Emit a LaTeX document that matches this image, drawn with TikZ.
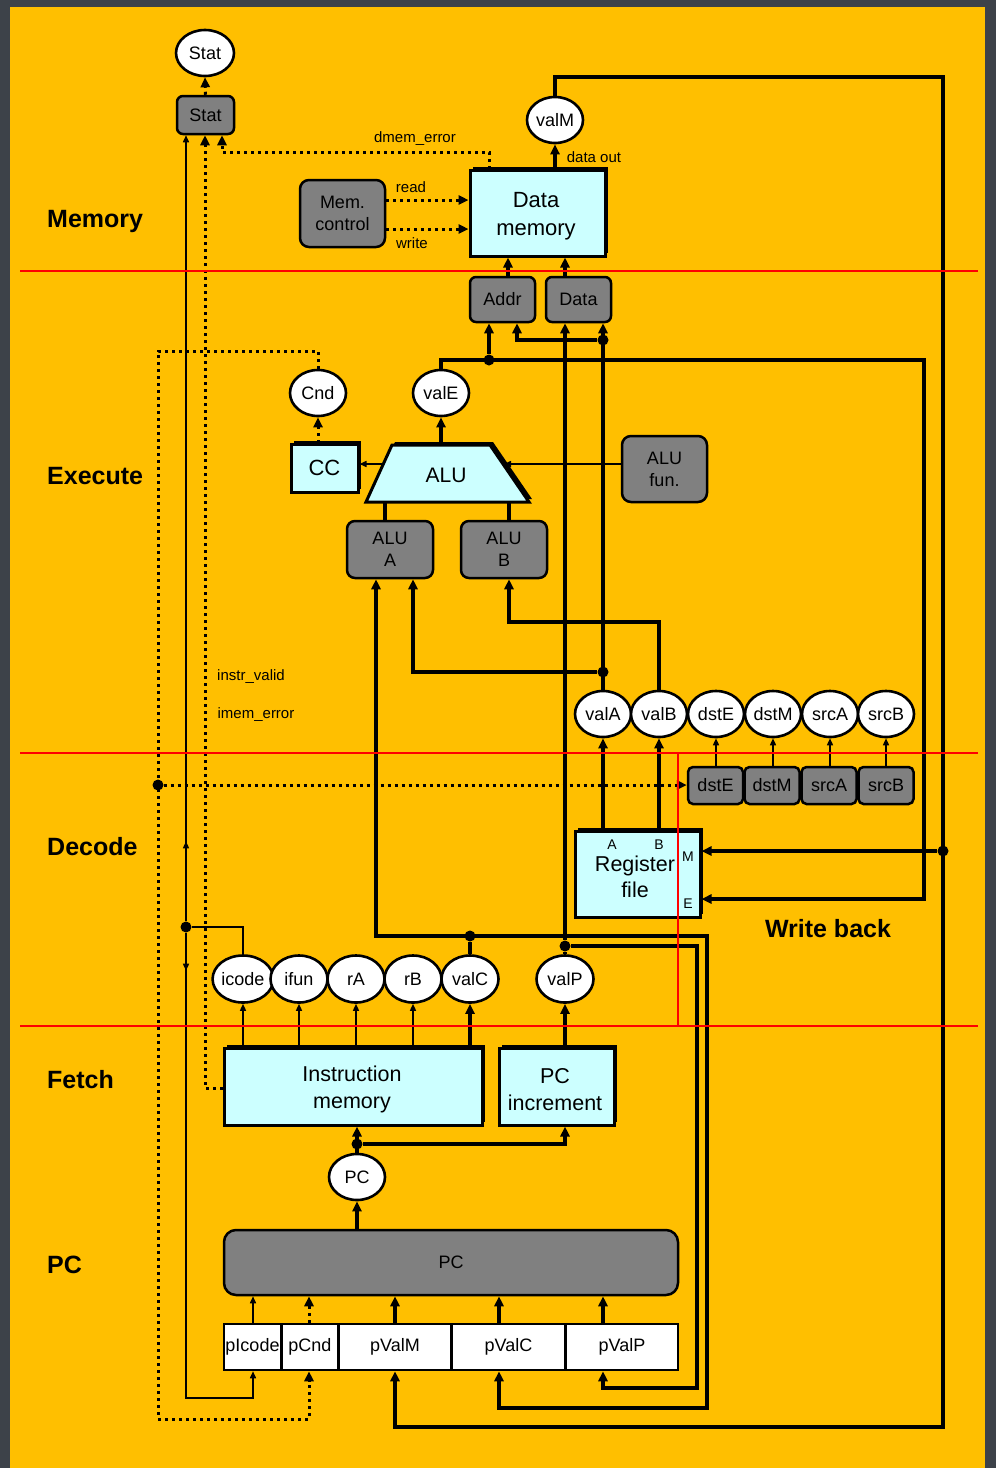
\documentclass[tikz,border=0pt]{standalone}
\usepackage{fontspec}
\setmainfont{Liberation Sans}
\usetikzlibrary{arrows.meta,shapes.geometric,shadows,decorations.markings}
\definecolor{bgdark}{HTML}{3D4249}
\definecolor{ylw}{HTML}{FFBF00}
\definecolor{cyn}{HTML}{CCFFFF}
\definecolor{gry}{HTML}{808080}
\begin{document}
\begin{tikzpicture}[x=1pt,y=-1pt,
 ell/.style={ellipse,draw,line width=2.6pt,fill=white,minimum width=56pt,minimum height=46pt,inner sep=0pt,font=\fontsize{18}{20}\selectfont},
 gbox/.style={draw,line width=2.5pt,fill=gry,rounded corners=6pt,inner sep=0pt,align=center,font=\fontsize{18}{22}\selectfont},
 cbox/.style={draw,line width=3pt,fill=cyn,inner sep=0pt,align=center,drop shadow={shadow xshift=3pt,shadow yshift=3pt,fill=black,opacity=1}},
 ctxt/.style={inner sep=0pt,align=center,font=\fontsize{21.5}{26.5}\selectfont},
 wbox/.style={draw,line width=2.5pt,fill=white,inner sep=0pt,minimum height=46pt,font=\fontsize{18}{20}\selectfont},
 lbl/.style={font=\fontsize{15}{17}\selectfont,inner sep=0pt},
 sml/.style={font=\fontsize{14}{16}\selectfont,inner sep=0pt},
 sec/.style={font=\bfseries\fontsize{25}{28}\selectfont,anchor=west,inner sep=0pt},
 thk/.style={line width=4.5pt},
 med/.style={line width=3.5pt},
 thn/.style={line width=1.5pt},
 dotln/.style={line width=3pt,dash pattern=on 3pt off 4pt},
 tip/.style={-{Triangle[length=10pt,width=9pt]}},
 stip/.style={-{Triangle[length=7pt,width=6pt]}},
 jd/.style={circle,fill=black,inner sep=0pt,minimum size=11pt},
]
\useasboundingbox (0,0) rectangle (996,1468);
\fill[bgdark] (0,0) rectangle (996,1468);
\fill[ylw] (10,7) rectangle (985,1468);

% ---------- section labels
\node[sec] (sMem) at (47,221) {Memory};
\node[sec] (sExe) at (47,476) {Execute};
\node[sec] (sDec) at (47,847) {Decode};
\node[sec] (sFet) at (47,1080) {Fetch};
\node[sec] (sPC) at (47,1265) {PC};
\node[sec,anchor=center] (sWB) at (828,929) {Write back};

% ---------- nodes
\node[ell,minimum width=58pt] (statE) at (205,53) {Stat};
\node[gbox,minimum width=57pt,minimum height=38pt] (statB) at (205.5,115) {Stat};
\node[ell] (valM) at (555,120) {valM};
\node[cbox,minimum width=135pt,minimum height=86pt] (dmem) at (537.5,213) {};
\node[ctxt,font=\fontsize{22}{28}\selectfont] (dmemt) at (536,216) {Data\\memory};
\node[gbox,minimum width=85pt,minimum height=67pt,rounded corners=9pt] (memc) at (342.5,213.5) {Mem.\\control};
\node[gbox,minimum width=65pt,minimum height=45pt] (addr) at (502.5,299.5) {Addr};
\node[gbox,minimum width=65pt,minimum height=45pt] (data) at (578.5,299.5) {Data};

\node[ell] (valE) at (441,393) {valE};
\node[ell] (cnd) at (318,393) {Cnd};
\node[cbox,minimum width=67pt,minimum height=48pt,font=\fontsize{22}{24}\selectfont] (cc) at (324.5,468) {CC};
\coordinate (aBL) at (366,502);
\coordinate (aTL) at (392,445);
\coordinate (aTR) at (490,445);
\coordinate (aBR) at (529,502);
\draw[line width=3pt,fill=cyn,drop shadow={shadow xshift=3pt,shadow yshift=3pt,fill=black,opacity=1}] (aBL) -- (aTL) -- (aTR) -- (aBR) -- cycle;
\node[font=\fontsize{21}{24}\selectfont,inner sep=0pt] (alu) at (446,475) {ALU};
\node[gbox,minimum width=85pt,minimum height=66pt,rounded corners=9pt] (alufun) at (664.5,469) {ALU\\fun.};
\node[gbox,minimum width=86pt,minimum height=57pt,rounded corners=8pt] (aluA) at (390,549.5) {ALU\\A};
\node[gbox,minimum width=86pt,minimum height=57pt,rounded corners=8pt] (aluB) at (504,549.5) {ALU\\B};

\node[ell] (valA) at (603,714) {valA};
\node[ell] (valB) at (659,714) {valB};
\node[ell] (dstE) at (716,714) {dstE};
\node[ell] (dstM) at (773,714) {dstM};
\node[ell] (srcA) at (830,714) {srcA};
\node[ell] (srcB) at (886,714) {srcB};
\node[gbox,minimum width=55pt,minimum height=37pt,rounded corners=5pt] (dstEb) at (715.5,785.5) {dstE};
\node[gbox,minimum width=55pt,minimum height=37pt,rounded corners=5pt] (dstMb) at (772,785.5) {dstM};
\node[gbox,minimum width=55pt,minimum height=37pt,rounded corners=5pt] (srcAb) at (829,785.5) {srcA};
\node[gbox,minimum width=55pt,minimum height=37pt,rounded corners=5pt] (srcBb) at (886,785.5) {srcB};

\node[cbox,minimum width=125pt,minimum height=86pt] (regf) at (637.5,874) {};
\node[ctxt] (regft) at (635,877) {Register\\file};
\node[sml] (rA1) at (612,845) {A};
\node[sml] (rB1) at (659,845) {B};
\node[sml] (rM1) at (688,857) {M};
\node[sml] (rE1) at (688,904) {E};

\node[ell,minimum width=57pt,minimum height=47pt] (icode) at (243,979) {icode};
\node[ell,minimum width=57pt,minimum height=47pt] (ifun) at (299,979) {ifun};
\node[ell,minimum width=57pt,minimum height=47pt] (rA) at (356,979) {rA};
\node[ell,minimum width=57pt,minimum height=47pt] (rB) at (413,979) {rB};
\node[ell,minimum width=57pt,minimum height=47pt] (valC) at (470,979) {valC};
\node[ell,minimum width=57pt,minimum height=47pt] (valP) at (565,979) {valP};

\node[cbox,minimum width=258pt,minimum height=77pt] (imem) at (353,1086.5) {};
\node[ctxt] (imemt) at (352,1089.5) {Instruction\\memory};
\node[cbox,minimum width=115pt,minimum height=77pt] (pcinc) at (556.5,1086.5) {};
\node[ctxt] (pcinct) at (555,1089.5) {PC\\increment};
\node[ell] (pcE) at (357,1177) {PC};
\node[gbox,minimum width=454pt,minimum height=65pt,rounded corners=12pt] (pcB) at (451,1262.5) {PC};
\node[wbox,minimum width=57pt] (pIcode) at (252.5,1347) {pIcode};
\node[wbox,minimum width=56pt] (pCnd) at (310,1347) {pCnd};
\node[wbox,minimum width=112pt] (pValM) at (395,1347) {pValM};
\node[wbox,minimum width=113pt] (pValC) at (508.5,1347) {pValC};
\node[wbox,minimum width=112pt] (pValP) at (622,1347) {pValP};

% ---------- labels
\node[lbl] (tdme) at (415,139) {dmem\_error};
\node[lbl] (trd) at (411,187) {read};
\node[lbl] (twr) at (412,243) {write};
\node[lbl] (tdo) at (594,157) {data out};
\node[lbl] (tiv) at (251,677) {instr\_valid};
\node[lbl] (tie) at (256,715) {imem\_error};

% ---------- coordinates
\coordinate (b1) at (489,152); \coordinate (b2) at (222,152);
\coordinate (rd) at (388,200); \coordinate (wr) at (388,229);
\coordinate (m1) at (555,77); \coordinate (m2) at (943,77);
\coordinate (m3) at (943,1427); \coordinate (m4) at (395,1427);
\coordinate (c508) at (508,277); \coordinate (c565) at (565,277);
\coordinate (e2) at (924,360); \coordinate (e3) at (924,899);
\coordinate (a517) at (517,340); \coordinate (a413) at (413,672);
\coordinate (b509) at (509,622);
\coordinate (p1) at (697,946); \coordinate (p2) at (697,1388); \coordinate (p3) at (603,1388);
\coordinate (c1) at (376,936); \coordinate (c2) at (707,936); \coordinate (c3) at (707,1408); \coordinate (c4) at (499,1408);
\coordinate (u385) at (385,502); \coordinate (u509) at (509,502); \coordinate (u441) at (441,445);
\coordinate (l464) at (383,464); \coordinate (r464) at (504,464);
\coordinate (d2) at (158,351); \coordinate (d3) at (158,1419); \coordinate (d4) at (309,1419);
\coordinate (i1) at (243,927); \coordinate (i2) at (186,1398); \coordinate (i3) at (253,1398);
\coordinate (f1) at (205,1088);
\coordinate (q1) at (565,1144);

% ---------- connectors: memory
\draw[dotln,tip] (statB.north) -- (statE.south);
\draw[dotln,tip] (dmem.north -| b1) -- (b1) -- (b2) -- (statB.south -| b2);
\draw[dotln,tip] (memc.east |- rd) -- (dmem.west |- rd);
\draw[dotln,tip] (memc.east |- wr) -- (dmem.west |- wr);
\draw[thk,tip] (dmem.north -| valM.south) -- (valM.south);
\draw[thk,tip] (valM.north) -- (m1) -- (m2) -- (m3) -- (m4) -- (pValM.south);
\draw[thk,tip] (addr.north -| c508) -- (dmem.south -| c508);
\draw[thk,tip] (data.north -| c565) -- (dmem.south -| c565);

% ---------- execute
\node[jd] (jE) at (489,360) {};
\node[jd] (jA2) at (603,340) {};
\node[jd] (jA1) at (603,672) {};
\node[jd] (jM) at (943,851) {};
\draw[thk,tip] (valE.north) -- (valE.north |- jE) -- (e2) -- (e3) -- (regf.east |- e3);
\draw[thk,tip] (jE) -- (addr.south -| jE);
\draw[thk,tip] (jM) -- (regf.east |- jM);
\draw[thk,tip] (valA.north) -- (data.south -| valA.north);
\draw[med,tip] (jA2) -- (a517) -- (addr.south -| a517);
\draw[thk,tip] (jA1) -- (a413) -- (aluA.south -| a413);
\draw[thk,tip] (valB.north) -- (valB.north |- b509) -- (b509) -- (aluB.south -| b509);
\draw[thk] (aluA.north -| u385) -- (u385);
\draw[thk] (aluB.north -| u509) -- (u509);
\draw[thk,tip] (u441) -- (valE.south);
\draw[thn,stip] (l464) -- (cc.east |- l464);
\draw[thn,stip] (alufun.west |- r464) -- (r464);
\draw[dotln,tip] (cc.north -| cnd.south) -- (cnd.south);
\node[jd] (jD) at (158,785) {};
\draw[dotln,tip] (cnd.north) -- (cnd.north |- d2) -- (d2) -- (d3) -- (d4) -- (pCnd.south -| d4);
\draw[dotln,tip] (jD) -- (dstEb.west |- jD);

% ---------- decode
\draw[thn,stip] (dstEb.north -| dstE.south) -- (dstE.south);
\draw[thn,stip] (dstMb.north -| dstM.south) -- (dstM.south);
\draw[thn,stip] (srcAb.north -| srcA.south) -- (srcA.south);
\draw[thn,stip] (srcBb.north -| srcB.south) -- (srcB.south);
\draw[thk,tip] (regf.north -| valA.south) -- (valA.south);
\draw[thk,tip] (regf.north -| valB.south) -- (valB.south);

% ---------- fetch
\node[jd] (jP) at (565,946) {};
\node[jd] (jC) at (470,936) {};
\node[jd] (jI) at (186,927) {};
\node[jd] (jPC) at (357,1144) {};
\draw[thk,tip] (jP) -- (data.south -| jP);
\draw[thk] (valP.north) -- (jP);
\draw[thk,tip] (jP) -- (p1) -- (p2) -- (p3) -- (pValP.south -| p3);
\draw[thk,{Triangle[length=10pt,width=9pt]}-{Triangle[length=10pt,width=9pt]}] (aluA.south -| c1) -- (c1) -- (c2) -- (c3) -- (c4) -- (pValC.south -| c4);
\draw[thk] (valC.north) -- (jC);
\draw[thn] (icode.north) -- (i1) -- (jI);
\draw[thn,stip,postaction={decorate},decoration={markings,mark=at position 80pt with {\arrow{Triangle[length=7pt,width=6pt]}}}] (jI) -- (statB.south -| jI);
\draw[thn,stip,postaction={decorate},decoration={markings,mark=at position 38pt with {\arrow{Triangle[length=7pt,width=6pt]}}}] (jI) -- (i2) -- (i3) -- (pIcode.south -| i3);
\draw[thn,stip] (imem.north -| icode.south) -- (icode.south);
\draw[thn,stip] (imem.north -| ifun.south) -- (ifun.south);
\draw[thn,stip] (imem.north -| rA.south) -- (rA.south);
\draw[thn,stip] (imem.north -| rB.south) -- (rB.south);
\draw[thk,tip] (imem.north -| valC.south) -- (valC.south);
\draw[dotln,tip] (imem.west |- f1) -- (f1) -- (statB.south -| f1);
\draw[thk,tip] (pcinc.north -| valP.south) -- (valP.south);
\draw[thk,tip] (pcE.north) -- (imem.south -| pcE.north);
\draw[thk,tip] (jPC) -- (q1) -- (pcinc.south -| q1);

% ---------- PC
\draw[thk,tip] (pcB.north -| pcE.south) -- (pcE.south);
\draw[thn,stip] (pIcode.north -| i3) -- (pcB.south -| i3);
\draw[dotln,tip] (pCnd.north -| d4) -- (pcB.south -| d4);
\draw[med,tip] (pValM.north) -- (pcB.south -| pValM.north);
\draw[med,tip] (pValC.north -| c4) -- (pcB.south -| c4);
\draw[med,tip] (pValP.north -| p3) -- (pcB.south -| p3);

% ---------- stage separators
\draw[red,line width=2.5pt] (20,271) -- (978,271);
\draw[red,line width=2.5pt] (20,753) -- (978,753);
\draw[red,line width=2.5pt] (20,1026) -- (978,1026);
\draw[red,line width=2.5pt] (678,753) -- (678,1026);
\end{tikzpicture}
\end{document}
